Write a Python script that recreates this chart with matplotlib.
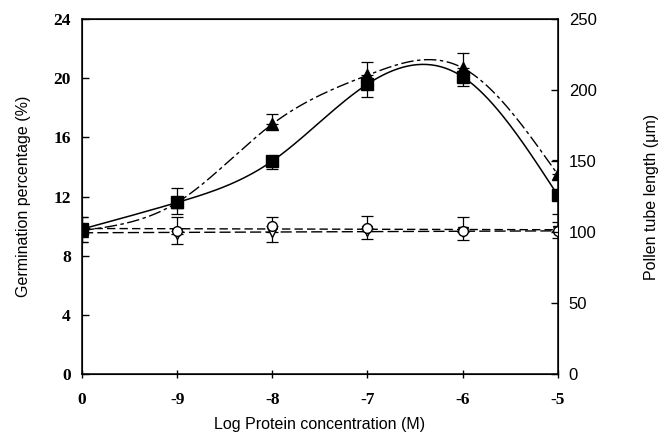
import numpy as np
import matplotlib
matplotlib.use("Agg")
import matplotlib.pyplot as plt

# log protein concentration (categorical positions on the x axis)
conc_labels = ['0', '-9', '-8', '-7', '-6', '-5']

# germination percentage (%) for the four series
sq_vals = [9.8, 11.6, 14.4, 19.6, 20.1, 12.1]
tri_vals = [9.7, 11.6, 16.9, 20.2, 20.7, 13.5]
circ_vals = [9.8, 9.7, 10.0, 9.9, 9.7, 9.7]
tdown_vals = [9.6, 9.5, 9.6, 9.7, 9.6, 9.7]

# error bars (one side visible per series)
sq_err = [0.9, 0.8, 0.55, 0.9, 0.65, 1.3]
tri_err = [0.9, 1.0, 0.7, 0.9, 1.0, 0.95]
circ_err = [0.8, 0.9, 0.65, 0.8, 0.9, 0.6]
tdown_err = [0.7, 0.7, 0.7, 0.6, 0.55, 0.5]


def natural_spline(x, y, n=200):
    # plain natural cubic spline, just for drawing the smooth curves
    x = np.asarray(x, float)
    y = np.asarray(y, float)
    k = len(x)
    h = np.diff(x)
    A = np.zeros((k, k))
    b = np.zeros(k)
    A[0, 0] = A[-1, -1] = 1
    for i in range(1, k - 1):
        A[i, i - 1] = h[i - 1]
        A[i, i] = 2 * (h[i - 1] + h[i])
        A[i, i + 1] = h[i]
        b[i] = 3 * ((y[i + 1] - y[i]) / h[i] - (y[i] - y[i - 1]) / h[i - 1])
    c = np.linalg.solve(A, b)
    xs = np.linspace(x[0], x[-1], n)
    idx = np.clip(np.searchsorted(x, xs) - 1, 0, k - 2)
    dx = xs - x[idx]
    bb = (y[idx + 1] - y[idx]) / h[idx] - h[idx] * (2 * c[idx] + c[idx + 1]) / 3
    dd = (c[idx + 1] - c[idx]) / (3 * h[idx])
    ys = y[idx] + bb * dx + c[idx] * dx ** 2 + dd * dx ** 3
    return xs, ys


x = np.arange(len(conc_labels))
zeros = [0] * len(x)

fig = plt.figure(figsize=(6.69, 4.32), dpi=100)
ax = fig.add_axes([0.1226, 0.134, 0.711, 0.822])

# smooth lines for the active series
xs, ys = natural_spline(x, sq_vals)
ax.plot(xs, ys, color='black', lw=1.1)
xs, ys = natural_spline(x, tri_vals)
ax.plot(xs, ys, color='black', lw=1.0, linestyle=(0, (9, 2.5, 2.5, 2.5)))
# the controls are basically flat -> straight fitted lines
for vals, dash in [(circ_vals, (6, 3)), (tdown_vals, (8, 3))]:
    p = np.polyfit(x, vals, 1)
    ax.plot(x, np.polyval(p, x), color='black', lw=1.0, linestyle=(0, dash))

# error bars
eb = dict(fmt='none', ecolor='black', elinewidth=0.9, capsize=4, capthick=0.9)
ax.errorbar(x, tri_vals, yerr=[zeros, tri_err], **eb)
ax.errorbar(x, sq_vals, yerr=[sq_err, zeros], **eb)
ax.errorbar(x, circ_vals, yerr=[zeros, circ_err], **eb)
ax.errorbar(x, tdown_vals, yerr=[tdown_err, zeros], **eb)

# markers
ax.plot(x, tdown_vals, 'v', ms=7, mfc='white', mec='black', mew=1.0, ls='none', zorder=5)
ax.plot(x, circ_vals, 'o', ms=7, mfc='white', mec='black', mew=1.0, ls='none', zorder=5)
ax.plot(x, sq_vals, 's', ms=9, color='black', ls='none', zorder=6)
ax.plot(x, tri_vals, '^', ms=9, color='black', ls='none', zorder=6)

ax.set_xlim(0, 5)
ax.set_ylim(0, 24)
ax.set_yticks([0, 4, 8, 12, 16, 20, 24])
ax.set_xticks(x)
ax.set_xticklabels(conc_labels)
for lab in ax.get_xticklabels() + ax.get_yticklabels():
    lab.set_family('Liberation Serif')
    lab.set_fontweight('bold')
    lab.set_fontsize(12.5)
ax.tick_params(axis='y', direction='in', length=5, width=1, pad=8)
ax.tick_params(axis='x', direction='inout', length=6, width=1, pad=10)
for s in ax.spines.values():
    s.set_linewidth(1.1)

ax.set_ylabel('Germination percentage (%)', family='Liberation Sans', fontsize=11.5, labelpad=16)
ax.set_xlabel('Log Protein concentration (M)', family='Liberation Sans', fontsize=11.5, labelpad=6)

# right axis: pollen tube length
ax2 = ax.twinx()
ax2.set_ylim(0, 250)
ax2.set_yticks([0, 50, 100, 150, 200, 250])
ax2.tick_params(axis='y', direction='in', length=5, width=1, pad=8, labelsize=12)
for lab in ax2.get_yticklabels():
    lab.set_family('Liberation Sans')
ax2.set_ylabel('Pollen tube length (\u03bcm)', family='Liberation Sans', fontsize=11.5, labelpad=34)

fig.savefig('out.png', dpi=100)
